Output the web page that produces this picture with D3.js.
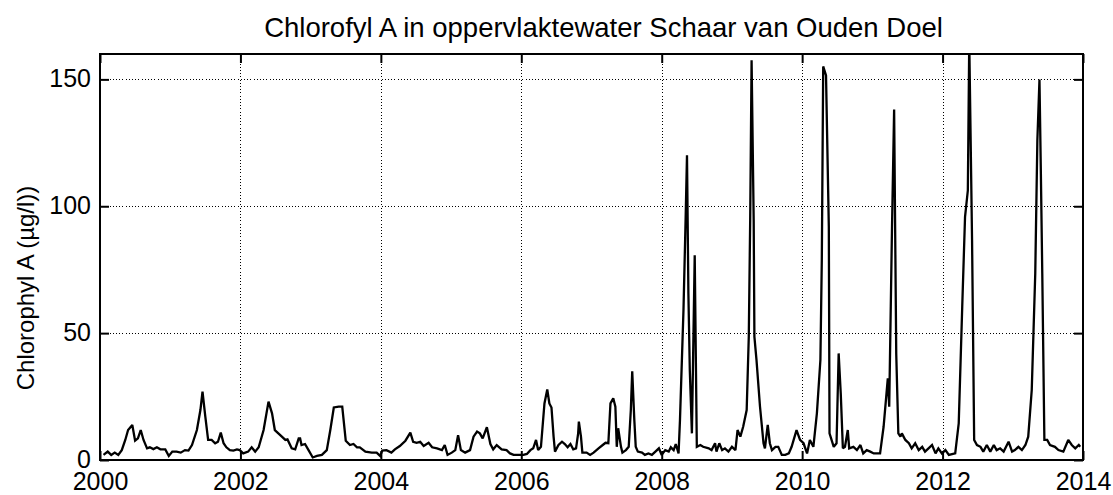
<!DOCTYPE html>
<html>
<head>
<meta charset="utf-8">
<script src="https://cdn.jsdelivr.net/npm/d3@7"></script>
<style>
  body { margin: 0; background: #fff; }
  svg { display: block; }
  text { font-family: "Liberation Sans", Arial, Helvetica, sans-serif; fill: #000; }
</style>
</head>
<body>
<svg id="chart" width="1113" height="495"></svg>
<script>
// Sample dates as decimal years, and measured chlorophyll A (µg/l)
const sampleYear = [
  2000.05,2000.11,2000.16,2000.21,2000.26,2000.31,2000.36,2000.40,2000.46,2000.50,2000.54,2000.58,2000.62,2000.67,2000.71,2000.76,2000.81,2000.86,2000.93,2000.98,
  2001.03,2001.09,2001.15,2001.21,2001.26,2001.31,2001.38,2001.43,2001.46,2001.50,2001.54,2001.59,2001.64,2001.68,2001.72,2001.76,2001.80,2001.85,2001.90,2001.95,2001.99,
  2002.04,2002.11,2002.16,2002.21,2002.26,2002.33,2002.40,2002.45,2002.49,2002.54,2002.59,2002.64,2002.67,2002.73,2002.78,2002.83,2002.85,2002.87,2002.92,2002.97,
  2003.03,2003.09,2003.16,2003.23,2003.28,2003.33,2003.40,2003.45,2003.50,2003.56,2003.61,2003.66,2003.70,2003.78,2003.87,2003.94,2003.99,
  2004.02,2004.08,2004.15,2004.20,2004.27,2004.35,2004.42,2004.46,2004.51,2004.56,2004.61,2004.68,2004.73,2004.80,2004.87,2004.91,2004.95,
  2005.01,2005.06,2005.10,2005.14,2005.20,2005.27,2005.32,2005.37,2005.41,2005.45,2005.51,2005.56,2005.60,2005.65,2005.72,2005.79,2005.84,2005.89,2005.96,
  2006.03,2006.08,2006.13,2006.17,2006.21,2006.24,2006.28,2006.33,2006.37,2006.40,2006.43,2006.46,2006.48,2006.53,2006.58,2006.62,2006.66,2006.70,2006.74,2006.78,2006.81,2006.82,2006.85,2006.87,2006.93,2006.98,
  2007.03,2007.10,2007.16,2007.20,2007.24,2007.27,2007.31,2007.34,2007.36,2007.38,2007.42,2007.44,2007.49,2007.53,2007.56,2007.58,2007.61,2007.63,2007.66,2007.72,2007.76,2007.81,2007.86,2007.91,2007.96,
  2008.00,2008.05,2008.10,2008.13,2008.17,2008.20,2008.24,2008.26,2008.31,2008.34,2008.36,2008.38,2008.40,2008.43,2008.47,2008.50,2008.55,2008.59,2008.67,2008.71,2008.76,2008.78,2008.82,2008.86,2008.90,2008.95,
  2009.00,2009.05,2009.08,2009.12,2009.16,2009.21,2009.24,2009.26,2009.28,2009.31,2009.32,2009.35,2009.40,2009.45,2009.47,2009.51,2009.54,2009.57,2009.62,2009.66,2009.71,2009.76,2009.81,2009.85,2009.92,2009.97,
  2010.02,2010.07,2010.11,2010.16,2010.21,2010.26,2010.28,2010.30,2010.34,2010.38,2010.39,2010.45,2010.49,2010.52,2010.55,2010.58,2010.61,2010.65,2010.67,2010.73,2010.78,2010.83,2010.87,2010.92,2010.97,
  2011.02,2011.11,2011.16,2011.22,2011.24,2011.28,2011.31,2011.34,2011.37,2011.40,2011.42,2011.47,2011.52,2011.56,2011.61,2011.66,2011.71,2011.75,2011.80,2011.85,2011.90,2011.94,2011.99,
  2012.04,2012.09,2012.18,2012.23,2012.28,2012.32,2012.36,2012.38,2012.40,2012.42,2012.45,2012.49,2012.54,2012.58,2012.63,2012.68,2012.73,2012.77,2012.82,2012.87,2012.94,2012.99,
  2013.03,2013.08,2013.13,2013.18,2013.22,2013.27,2013.32,2013.35,2013.38,2013.40,2013.42,2013.45,2013.49,2013.53,2013.60,2013.65,2013.72,2013.79,2013.84,2013.89,2013.94,2013.96
];
const chlorophyllA = [
  2.0,3.3,2.0,2.9,2.0,3.9,7.9,11.8,13.8,7.6,8.5,11.8,7.9,4.6,5.0,4.3,5.0,4.2,4.2,1.6,
  3.3,3.3,2.9,3.9,3.7,5.9,11.8,19.7,26.9,17.1,7.9,7.9,6.6,7.2,10.8,6.6,5.0,3.9,3.7,4.2,3.9,
  2.6,3.3,5.0,3.3,5.0,11.8,23.0,18.4,11.8,10.5,9.2,7.9,8.1,4.6,4.2,8.5,8.5,5.9,6.3,3.9,
  1.0,1.6,2.0,3.9,11.8,20.7,21.0,21.0,7.6,5.9,6.3,5.0,5.0,3.3,2.9,2.9,1.6,
  3.7,3.9,2.9,4.2,5.5,7.6,10.8,7.2,6.8,7.2,5.5,6.8,5.0,4.6,3.9,5.9,2.0,
  2.9,3.9,9.8,3.9,2.9,3.9,9.2,11.2,10.5,8.5,12.9,6.3,4.2,5.9,4.2,3.9,2.6,2.0,2.0,
  2.0,2.4,3.9,4.6,7.9,3.9,5.2,22.3,27.8,22.3,20.7,9.2,3.3,5.9,7.2,6.3,5.0,6.3,4.2,4.6,10.5,15.1,9.2,2.9,2.9,2.0,
  2.9,4.6,5.9,6.8,6.6,22.3,24.3,21.0,5.2,12.5,5.2,2.9,3.9,5.2,19.7,35.0,15.7,5.2,3.3,2.9,2.0,2.6,2.0,3.3,4.6,
  2.0,3.9,3.3,5.0,3.9,6.3,2.6,15.7,59.1,94.5,120.1,65.6,35.4,10.5,80.7,5.2,5.9,5.2,4.6,3.9,6.6,3.3,6.6,3.9,4.6,3.3,
  5.2,3.9,11.8,9.2,13.1,19.7,48.6,94.5,157.5,94.5,48.6,39.4,21.0,6.6,4.6,13.8,6.6,3.9,5.2,5.2,2.0,2.0,2.6,5.2,11.8,7.9,
  6.6,2.6,7.9,5.2,18.4,39.4,78.7,155.1,151.6,91.9,10.5,5.2,6.6,42.0,26.2,4.6,5.2,11.8,4.6,5.2,3.9,5.9,2.6,3.9,3.3,
  2.6,2.6,13.1,32.2,21.0,91.9,138.1,42.0,10.5,9.2,10.5,7.9,6.6,4.6,6.6,3.9,5.2,3.3,4.6,5.9,2.6,4.6,2.6,
  3.9,2.0,2.6,14.4,60.4,95.8,106.3,165.0,126.0,86.6,7.9,5.9,5.2,3.3,5.9,3.3,5.9,3.9,4.6,3.3,7.2,3.3,
  3.9,5.2,3.9,5.9,9.2,27.6,73.5,126.0,149.9,112.9,73.5,7.9,7.9,5.9,5.2,3.9,3.3,7.9,5.9,4.6,5.9,5.2
];

const xTickValues = [2000, 2002, 2004, 2006, 2008, 2010, 2012, 2014];
const yTickValues = [0, 50, 100, 150];
const xDomain = [2000, 2014];
const yDomain = [0, 160];
const chartTitle = "Chlorofyl A in oppervlaktewater Schaar van Ouden Doel";
const yAxisLabel = "Chlorophyl A (µg/l))";

const svg = d3.select("#chart");
const W = 1113, H = 495;
const margin = { top: 54, right: 30, bottom: 35, left: 100 };
const iw = W - margin.left - margin.right;
const ih = H - margin.top - margin.bottom;

svg.append("rect").attr("width", W).attr("height", H).attr("fill", "#fff");

const g = svg.append("g").attr("transform", `translate(${margin.left},${margin.top})`);

const x = d3.scaleLinear().domain(xDomain).range([0, iw]);
const y = d3.scaleLinear().domain(yDomain).range([ih, 0]);

// dotted grid
const grid = g.append("g").attr("stroke", "#000").attr("stroke-width", 1)
  .attr("stroke-dasharray", "1,2.2").attr("shape-rendering", "crispEdges");
grid.selectAll("line.gx").data(xTickValues.filter(v => v > xDomain[0] && v < xDomain[1]))
  .join("line").attr("class", "gx")
  .attr("x1", d => Math.round(x(d)) + 0.5).attr("x2", d => Math.round(x(d)) + 0.5)
  .attr("y1", 0).attr("y2", ih);
grid.selectAll("line.gy").data(yTickValues.filter(v => v > yDomain[0] && v < yDomain[1]))
  .join("line").attr("class", "gy")
  .attr("y1", d => Math.round(y(d)) + 0.5).attr("y2", d => Math.round(y(d)) + 0.5)
  .attr("x1", 0).attr("x2", iw);

// data line, clipped to the axes box
svg.append("defs").append("clipPath").attr("id", "plotClip")
  .append("rect").attr("x", 0).attr("y", 0).attr("width", iw).attr("height", ih);

const series = sampleYear.map((t, i) => [t, chlorophyllA[i]]);
const line = d3.line().x(d => x(d[0])).y(d => y(d[1]));
g.append("path").datum(series)
  .attr("clip-path", "url(#plotClip)")
  .attr("fill", "none").attr("stroke", "#000").attr("stroke-width", 2.3)
  .attr("stroke-linejoin", "miter").attr("stroke-miterlimit", 2)
  .attr("d", line);

// axes with inward ticks
const tickLen = 9;
const fontSize = 25;
const axB = g.append("g").attr("transform", `translate(0,${ih})`)
  .call(d3.axisBottom(x).tickValues(xTickValues).tickFormat(d3.format("d"))
    .tickSizeInner(-tickLen).tickSizeOuter(0).tickPadding(12));
const axT = g.append("g")
  .call(d3.axisTop(x).tickValues(xTickValues).tickFormat("")
    .tickSizeInner(-tickLen).tickSizeOuter(0));
const axL = g.append("g")
  .call(d3.axisLeft(y).tickValues(yTickValues).tickFormat(d3.format("d"))
    .tickSizeInner(-tickLen).tickSizeOuter(0).tickPadding(9));
const axR = g.append("g").attr("transform", `translate(${iw},0)`)
  .call(d3.axisRight(y).tickValues(yTickValues).tickFormat("")
    .tickSizeInner(-tickLen).tickSizeOuter(0));

[axB, axT, axL, axR].forEach(a => {
  a.select(".domain").remove();
  a.selectAll(".tick line").attr("stroke", "#000").attr("stroke-width", 2);
  a.selectAll(".tick text").attr("font-size", fontSize)
    .attr("font-family", "'Liberation Sans', Arial, Helvetica, sans-serif").attr("fill", "#000");
});
axL.selectAll(".tick text").attr("dy", "0.3em");

// axes box
g.append("rect").attr("x", 0).attr("y", 0).attr("width", iw).attr("height", ih)
  .attr("fill", "none").attr("stroke", "#000").attr("stroke-width", 2);

// title
svg.append("text")
  .attr("x", margin.left + iw / 2 + 12).attr("y", 37)
  .attr("text-anchor", "middle").attr("font-size", 27.5)
  .text(chartTitle);

// y label
svg.append("text")
  .attr("transform", `translate(34,${margin.top + ih / 2 + 31}) rotate(-90)`)
  .attr("text-anchor", "middle").attr("font-size", 24)
  .text(yAxisLabel);
</script>
</body>
</html>
